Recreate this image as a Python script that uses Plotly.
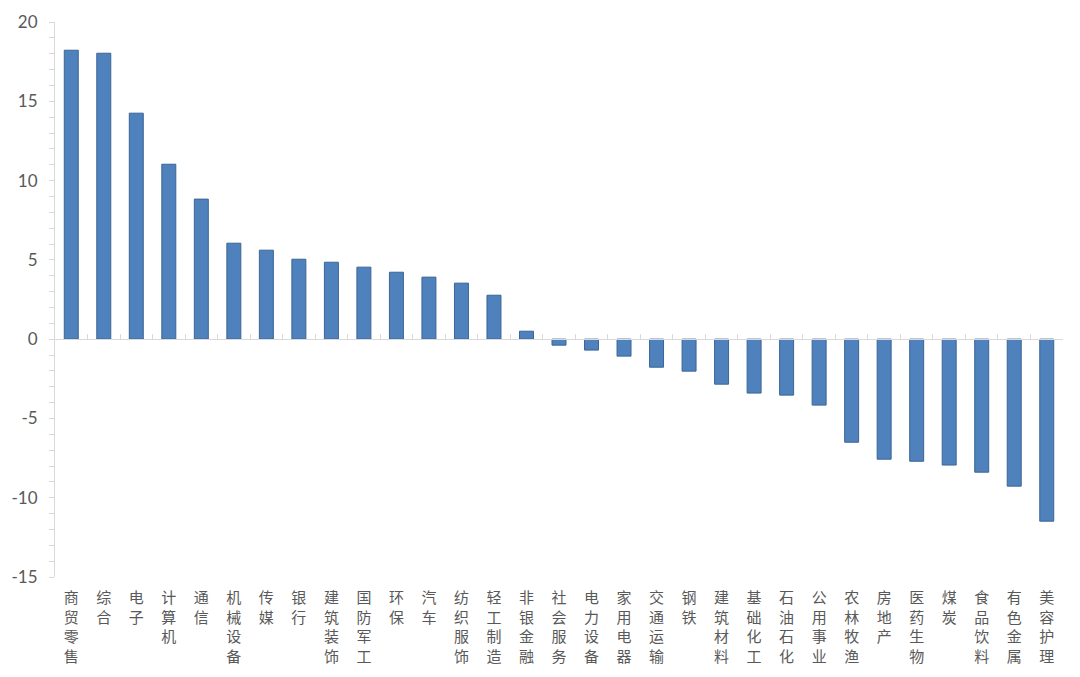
import plotly.graph_objects as go

categories = ["商贸零售", "综合", "电子", "计算机", "通信", "机械设备", "传媒", "银行", "建筑装饰",
              "国防军工", "环保", "汽车", "纺织服饰", "轻工制造", "非银金融", "社会服务", "电力设备",
              "家用电器", "交通运输", "钢铁", "建筑材料", "基础化工", "石油石化", "公用事业",
              "农林牧渔", "房地产", "医药生物", "煤炭", "食品饮料", "有色金属", "美容护理"]
values = [18.22, 18.03, 14.25, 11.03, 8.83, 6.05, 5.61, 5.04, 4.85,
          4.54, 4.22, 3.91, 3.53, 2.77, 0.50, -0.38, -0.69,
          -1.07, -1.77, -2.02, -2.84, -3.40, -3.53, -4.16,
          -6.50, -7.57, -7.70, -7.94, -8.39, -9.27, -11.48]
y_ticks = [-15, -10, -5, 0, 5, 10, 15, 20]
y_ticktext = ["-15", "-10", "-5", "0", "5", "10", "15", "20"]

n = len(categories)
xs = list(range(n))
ticktext = ["<br>".join(list(c)) for c in categories]

y_min, y_max = -15, 20
axis_gray = "#D9D9D9"
text_gray = "#595959"

fig = go.Figure()
fig.add_trace(go.Bar(
    x=xs, y=values, width=0.43,
    marker=dict(color="#4F81BD", line=dict(color="#3A6595", width=1)),
    hoverinfo="x+y",
))
# invisible trace to activate the secondary x axis for boundary ticks
fig.add_trace(go.Scatter(x=[xs[0]], y=[0], xaxis="x2", mode="markers",
                         marker=dict(opacity=0), showlegend=False, hoverinfo="skip"))

fig.update_layout(
    width=1080, height=677,
    margin=dict(l=55, r=17, t=22, b=100),
    paper_bgcolor="white", plot_bgcolor="white",
    showlegend=False,
    font=dict(family="Lato, 'Noto Sans CJK SC', sans-serif", color=text_gray),
    xaxis=dict(
        range=[-0.5, n - 0.5], tickmode="array", tickvals=xs, ticktext=ticktext,
        showgrid=False, zeroline=False, showline=False, ticks="",
        tickangle=0, automargin=False, ticklabelstandoff=10,
        tickfont=dict(family="'Noto Sans CJK SC', sans-serif", size=15, color=text_gray),
    ),
    xaxis2=dict(
        overlaying="x", anchor="free", position=(0 - y_min) / (y_max - y_min),
        range=[-0.5, n - 0.5], tickmode="array",
        tickvals=[i - 0.5 for i in range(n + 1)], showticklabels=False,
        ticks="inside", ticklen=5, tickcolor=axis_gray, tickwidth=1,
        showline=True, linecolor=axis_gray, linewidth=1, showgrid=False, zeroline=False,
        side="bottom", automargin=False,
    ),
    yaxis=dict(
        range=[y_min, y_max], tickmode="array", tickvals=y_ticks, ticktext=y_ticktext,
        showgrid=False, zeroline=False, showline=True, linecolor=axis_gray, linewidth=1,
        ticks="outside", ticklen=5, tickcolor=axis_gray, automargin=False,
        minor=dict(dtick=1, ticks="outside", ticklen=5, tickcolor=axis_gray, showgrid=False),
        tickfont=dict(size=17, color=text_gray),
        ticklabelstandoff=8,
    ),
)

fig.write_html("out.html", config={"displayModeBar": False},
               post_script="document.body.style.margin='0';")
